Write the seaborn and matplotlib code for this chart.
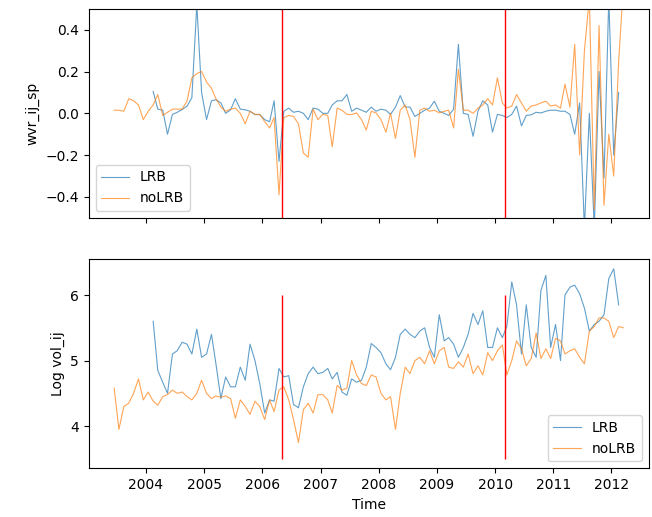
import numpy as np
import pandas as pd
import matplotlib
matplotlib.use('Agg')
import matplotlib.pyplot as plt
import matplotlib.dates as mdates
import seaborn as sns

# monthly observations, mid-month, Jun 2003 - Mar 2012
dates = pd.date_range('2003-06-01', periods=106, freq='MS') + pd.Timedelta(days=14)

nolrb_wvr = [0.015, 0.015, 0.01, 0.07, 0.06, 0.04, -0.03, 0.01, 0.04, 0.09,
             -0.01, 0.005, 0.02, 0.02, 0.02, 0.06, 0.17, 0.19, 0.2, 0.15,
             0.12, 0.07, 0.03, 0.01, 0.02, 0.025, 0.0, -0.05, 0.01, -0.005,
             -0.005, -0.04, -0.07, -0.02, -0.39, -0.02, -0.01, -0.015, -0.05, -0.19,
             -0.21, 0.02, -0.03, -0.005, -0.01, -0.16, 0.025, 0.015, -0.005, -0.006,
             0.002, -0.03, -0.08, 0.01, 0.002, -0.03, -0.09, 0.0, -0.12, 0.015,
             0.04, -0.03, -0.21, 0.015, 0.025, 0.01, 0.015, 0.002, 0.01, 0.015,
             -0.07, 0.21, 0.015, 0.015, 0.0, 0.025, 0.04, 0.07, 0.04, 0.17,
             0.05, 0.025, 0.035, 0.09, 0.05, 0.01, 0.035, 0.04, 0.05, 0.058,
             0.035, 0.04, 0.025, 0.14, 0.03, 0.33, -0.2, 0.3, 0.55, -0.46,
             0.42, -0.44, -0.1, -0.3, 0.25, 0.6]

lrb_wvr = [None] * 8 + [
    0.105, 0.02, 0.015, -0.1, -0.005, 0.005, 0.018, 0.035, 0.075, 0.52,
    0.1, -0.03, 0.06, 0.065, 0.05, 0.0, 0.017, 0.07, 0.02, 0.017,
    0.01, -0.006, -0.006, -0.03, -0.04, 0.06, -0.23, 0.01, 0.025, 0.005,
    0.01, 0.0, -0.03, 0.025, 0.02, 0.0, 0.0, 0.04, 0.06, 0.06,
    0.09, 0.01, 0.025, 0.015, 0.005, 0.03, 0.01, 0.02, 0.015, -0.005,
    0.03, 0.085, 0.03, 0.03, -0.015, 0.0, 0.015, 0.025, 0.058, 0.01,
    0.0, -0.01, 0.02, 0.33, 0.0, -0.005, -0.11, 0.01, 0.06, 0.04,
    -0.09, -0.005, -0.01, -0.02, -0.005, 0.035, -0.06, -0.01, -0.007, 0.005,
    0.002, 0.01, 0.015, 0.015, 0.01, 0.01, -0.005, -0.1, 0.05, -0.55,
    0.0, -0.55, 0.2, -0.31, 0.55, -0.2, 0.1] + [None]

nolrb_vol = [4.58, 3.95, 4.3, 4.35, 4.5, 4.72, 4.4, 4.52, 4.38, 4.32,
             4.45, 4.48, 4.55, 4.5, 4.52, 4.45, 4.4, 4.5, 4.7, 4.5,
             4.42, 4.46, 4.44, 4.46, 4.42, 4.12, 4.4, 4.3, 4.18, 4.38,
             4.3, 4.1, 4.4, 4.22, 4.55, 4.6, 4.4, 4.1, 3.75, 4.25,
             4.35, 4.2, 4.48, 4.48, 4.4, 4.2, 4.62, 4.55, 4.58, 5.0,
             4.78, 4.65, 4.62, 4.78, 4.75, 4.5, 4.4, 4.45, 3.95, 4.5,
             4.9, 4.8, 5.0, 5.05, 4.95, 5.15, 4.95, 5.15, 5.2, 4.9,
             4.88, 4.98, 4.9, 5.1, 4.8, 4.92, 4.78, 5.12, 5.0, 5.15,
             5.24, 4.78, 5.0, 5.3, 5.18, 4.92, 5.03, 5.42, 5.03, 5.18,
             5.03, 5.34, 5.3, 5.1, 5.15, 5.18, 5.05, 4.95, 5.45, 5.52,
             5.65, 5.65, 5.6, 5.35, 5.52, 5.5]

lrb_vol = [None] * 8 + [
    5.6, 4.85, 4.67, 4.5, 5.1, 5.15, 5.28, 5.25, 5.1, 5.48,
    5.05, 5.1, 5.4, 4.95, 4.42, 4.75, 4.6, 4.6, 4.9, 4.7,
    5.25, 5.0, 4.65, 4.2, 4.4, 4.38, 4.88, 4.75, 4.77, 4.33,
    4.28, 4.6, 4.8, 4.9, 4.8, 4.82, 4.88, 4.72, 4.82, 4.52,
    4.47, 4.72, 4.67, 4.7, 4.9, 5.26, 5.2, 5.12, 4.95, 4.86,
    5.05, 5.4, 5.48, 5.4, 5.35, 5.45, 5.5, 5.2, 5.05, 5.7,
    5.3, 5.35, 5.25, 5.05, 5.2, 5.4, 5.72, 5.55, 5.76, 5.2,
    5.2, 5.5, 5.35, 5.52, 6.2, 5.85, 5.1, 5.85, 5.2, 5.05,
    6.07, 6.3, 5.2, 5.55, 5.0, 6.0, 6.12, 6.15, 6.02, 5.8,
    5.45, 5.55, 5.6, 5.7, 6.25, 6.4, 5.85] + [None]

breaks = pd.to_datetime(['2006-05-01', '2010-03-01'])

df = pd.DataFrame({'Time': dates,
                   'lrb_wvr': pd.array(lrb_wvr, dtype='Float64').astype(float),
                   'nolrb_wvr': nolrb_wvr,
                   'lrb_vol': pd.array(lrb_vol, dtype='Float64').astype(float),
                   'nolrb_vol': nolrb_vol})

line_kw = dict(lw=0.8, alpha=0.7)

fig, (ax1, ax2) = plt.subplots(2, 1, sharex=True, figsize=(6.52, 5.17), dpi=100)
fig.subplots_adjust(left=0.136, right=0.995, top=0.983, bottom=0.094, hspace=0.198)

# top panel: wvr
sns.lineplot(data=df, x='Time', y='lrb_wvr', ax=ax1, label='LRB', color='C0', **line_kw)
sns.lineplot(data=df, x='Time', y='nolrb_wvr', ax=ax1, label='noLRB', color='C1', **line_kw)
for b in breaks:
    ax1.axvline(b, color='red', lw=1)
ax1.set_ylim(-0.5, 0.5)
ax1.set_ylabel('wvr_ij_sp')
ax1.set_xlabel('')
ax1.legend(loc='lower left')

# bottom panel: log volume
sns.lineplot(data=df, x='Time', y='lrb_vol', ax=ax2, label='LRB', color='C0', **line_kw)
sns.lineplot(data=df, x='Time', y='nolrb_vol', ax=ax2, label='noLRB', color='C1', **line_kw)
ax2.vlines(breaks, 3.5, 6, color='red', lw=1)
ax2.set_yticks([4, 5, 6])
ax2.set_ylabel('Log vol_ij')
ax2.set_xlabel('Time')
ax2.legend(loc='lower right')

ax2.xaxis.set_major_locator(mdates.YearLocator())
ax2.xaxis.set_major_formatter(mdates.DateFormatter('%Y'))

plt.savefig('out.png', dpi=100)
